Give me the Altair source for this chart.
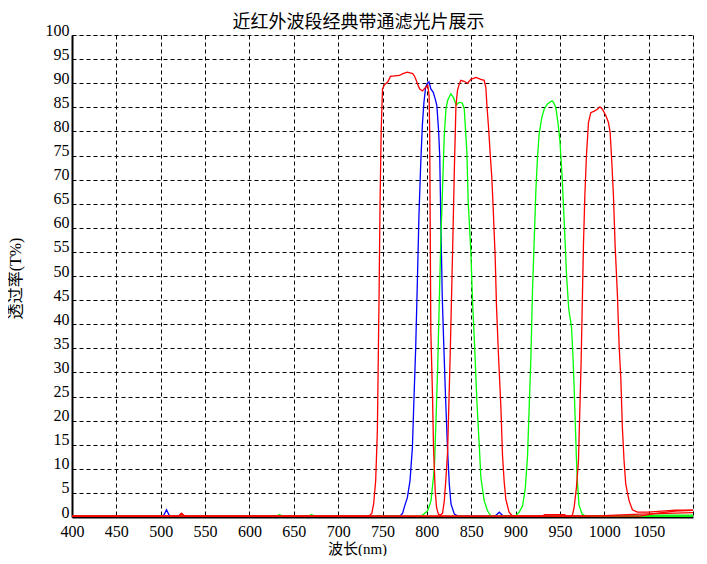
import altair as alt
import pandas as pd

# ---- data ----
series_names = ["BP808", "BP830", "BP940", "BP750", "BP850", "BP1000"]
series_colors = ["#0000ff", "#00ff00", "#00ff00", "#ff0000", "#ff0000", "#ff0000"]

wl_808 = [400, 503, 506.5, 510, 770, 772.7, 774.5, 778, 781, 783.7, 785.5, 787.4, 789.3, 791.1, 793, 794.9,
          796.7, 798.6, 800.5, 802.4, 804.5, 807.2, 809.5, 811.3, 813.2, 814.5, 815.7, 817.4, 819.2, 821.1,
          823.4, 825.3, 827.2, 831, 835, 877, 881.6, 886, 1100]
t_808 = [0.2, 0.2, 1.5, 0.2, 0.2, 0.8, 2, 4, 7.5, 14.4, 24.7, 35, 48.8, 62.6, 72.9, 81.2,
         86, 89.1, 89.9, 90.3, 88.8, 88.1, 86.7, 85.3, 80.2, 75, 62, 45.4, 35, 24.7,
         13.7, 6.8, 2.7, 0.6, 0.2, 0.2, 1.0, 0.2, 0.2]

wl_830 = [400, 792, 796, 801, 804.7, 806.6, 808.5, 810.4, 812.2, 814, 815.9, 817.8, 819.6, 821.5, 823.4,
          827, 830, 833, 836.5, 840, 842.2, 843.3, 845.1, 846.6, 849.6, 851.5, 854.1, 856.4, 859, 860.9,
          864.6, 868.4, 872.2, 1100]
t_830 = [0.1, 0.1, 0.5, 1.3, 3.4, 6.8, 10.3, 20.6, 31, 44.7, 58.5, 68.8, 79.1, 84.6, 86.4,
         87.8, 87, 85.5, 86, 85.9, 84.6, 81.2, 75.7, 65.4, 55, 44.7, 34.4, 24, 15.1, 8.2,
         3.4, 1.3, 0.2, 0.1]

wl_940 = [400, 630, 634, 638, 666, 670, 674, 897, 900.4, 904.1, 907.9, 910.9, 913.5, 915.4, 917.3, 919.1,
          921, 922.9, 924.7, 926.6, 929.6, 932.2, 935.9, 939.7, 941, 942.5, 945.3, 948, 950, 952.5,
          955, 957.5, 960, 963, 964.7, 966, 967.2, 968.5, 969.6, 971.5, 975, 979, 1040, 1060, 1100]
t_940 = [0.1, 0.1, 0.5, 0.1, 0.1, 0.5, 0.1, 0.1, 0.3, 1, 2.3, 5.8, 12.7, 23, 33.3, 47.1,
         57.4, 67.8, 74.6, 79.5, 82.9, 84.6, 85.7, 86.2, 86.3, 86.1, 85, 81.5, 78, 70.5,
         60.5, 50, 43, 39.5, 33.3, 27, 20, 12.7, 7.5, 2.5, 0.6, 0.2, 0.2, 0.4, 0.4]

wl_750 = [400, 735, 738, 740, 742.3, 744.2, 746.1, 747.2, 748.5, 750, 752, 756, 759, 764, 769, 773,
          778, 784, 786, 788, 790, 792, 795, 798, 801, 802.5, 803.2, 803.8, 804.5, 806.4, 807.5,
          809.4, 811, 813, 816, 1040, 1060, 1080, 1100]
t_750 = [0.2, 0.2, 0.8, 2.7, 7.5, 17.8, 45.4, 64.7, 80, 88.8, 89.6, 90.3, 91.4, 91.5, 91.6, 92.0,
         92.3, 92.0, 91.5, 90.6, 89.6, 88.8, 88.4, 89.0, 89.6, 87.5, 79.8, 59.2, 38.5, 24.8, 14.5,
         5.4, 1.9, 0.6, 0.2, 0.2, 0.8, 1.2, 1.4]

wl_850 = [400, 814, 817.7, 819.7, 821.5, 823.4, 826.4, 829, 831, 832.8, 834.5, 836.5, 838.4, 842, 845.9,
          849.6, 855.3, 860.9, 864.6, 866.5, 867.6, 869.5, 871.4, 873.2, 874.7, 877, 878.5, 880.8,
          883.4, 885.3, 887.2, 889, 892.7, 896.5, 930, 933, 955, 958, 1000, 1040, 1100]
t_850 = [0.2, 0.2, 0.8, 3.4, 8, 13.7, 34.4, 55, 72.2, 85.3, 88.5, 89.8, 90.6, 90.4, 90.0,
         90.8, 91.2, 90.8, 90.6, 89.1, 85.7, 80.9, 75.3, 70.5, 64.3, 54, 43.7, 33.3,
         23, 12.7, 7.2, 3.7, 1, 0.2, 0.2, 0.5, 0.5, 0.2, 0.3, 0.6, 0.9]

wl_1000 = [400, 520, 523.4, 527, 962, 964.1, 966, 968.6, 970.9, 972.4, 973.9, 975.4, 976.5, 978.1, 979.9,
           982.2, 984.8, 988.6, 992.3, 995, 997.9, 1001.7, 1004.6, 1006.6, 1008.5, 1010.3, 1012.2,
           1014.8, 1016.7, 1018.6, 1020.4, 1022.3, 1024.2, 1027.9, 1031.7, 1037.3, 1050, 1065, 1080, 1100]
t_1000 = [0.2, 0.2, 0.8, 0.2, 0.2, 0.4, 2, 6.1, 11.6, 22, 32.3, 46.1, 56.4, 66.7, 75,
          81.9, 83.9, 84.2, 84.6, 85.1, 84.6, 83.3, 81.9, 79.8, 73.6, 66.7, 56.4,
          46.1, 35.7, 28.9, 18.5, 11.6, 6.8, 3.4, 1.5, 1.0, 1.0, 1.2, 1.4, 1.4]

x_ticks = list(range(400, 1101, 50))
y_ticks = list(range(0, 101, 5))

chart_title = "近红外波段经典带通滤光片展示"
x_title = "波长(nm)"
y_title = "透过率(T%)"

series_data = [
    ("BP808", wl_808, t_808),
    ("BP830", wl_830, t_830),
    ("BP940", wl_940, t_940),
    ("BP750", wl_750, t_750),
    ("BP850", wl_850, t_850),
    ("BP1000", wl_1000, t_1000),
]

rows = []
for name, wls, ts in series_data:
    for i, (w, t) in enumerate(zip(wls, ts)):
        rows.append({"series": name, "wl": w, "T": t, "idx": i})
df = pd.DataFrame(rows)

label_font = "Liberation Serif"
title_font = "Liberation Serif, Noto Sans CJK SC"

x_axis = alt.Axis(
    values=x_ticks, title=x_title, format="d", grid=True, gridColor="black", gridDash=[4, 3], gridWidth=1,
    gridOpacity=1, ticks=False, tickSize=0, domain=True, domainColor="black", domainWidth=2,
    labelFont=label_font, labelFontSize=16, labelColor="black", labelPadding=6,
    labelFlush=False, labelOverlap=False,
    labelExpr="datum.value == 1100 ? '' : datum.label",
    titleFont=title_font, titleFontSize=15, titleFontWeight="normal", titleColor="black",
    titleX=285, titleY=31, titleAlign="center", titleBaseline="middle",
)
y_axis = alt.Axis(
    values=y_ticks, title=y_title, format="d", grid=True, gridColor="black", gridDash=[4, 3], gridWidth=1,
    gridOpacity=1, ticks=False, tickSize=0, domain=True, domainColor="black", domainWidth=2,
    labelFont=label_font, labelFontSize=16, labelColor="black", labelPadding=3,
    labelBaseline="alphabetic", labelFlush=False, labelOverlap=False,
    titleFont=title_font, titleFontSize=16, titleFontWeight="normal", titleColor="black",
    titleAngle=-90, titleX=-57, titleY=243, titleAlign="center", titleBaseline="middle",
)

chart = alt.Chart(df).mark_line(strokeWidth=1.3, clip=True).encode(
    x=alt.X("wl:Q", scale=alt.Scale(domain=[400, 1100], nice=False, zero=False), axis=x_axis),
    y=alt.Y("T:Q", scale=alt.Scale(domain=[0, 100], nice=False, zero=True), axis=y_axis),
    color=alt.Color("series:N", scale=alt.Scale(domain=series_names, range=series_colors), legend=None),
    order=alt.Order("idx:Q"),
).properties(
    width=621,
    height=482,
    title=alt.TitleParams(text=chart_title, font=title_font, fontSize=18, fontWeight="normal",
                          color="black", anchor="middle", offset=-10, dx=-24),
    autosize=alt.AutoSizeParams(type="none"),
    padding={"left": 64, "top": 27, "right": 6, "bottom": 39},
).configure_view(
    stroke="black", strokeWidth=1.2
).configure(background="white")

chart.save("out.html", embed_options={"renderer": "svg", "actions": False})
